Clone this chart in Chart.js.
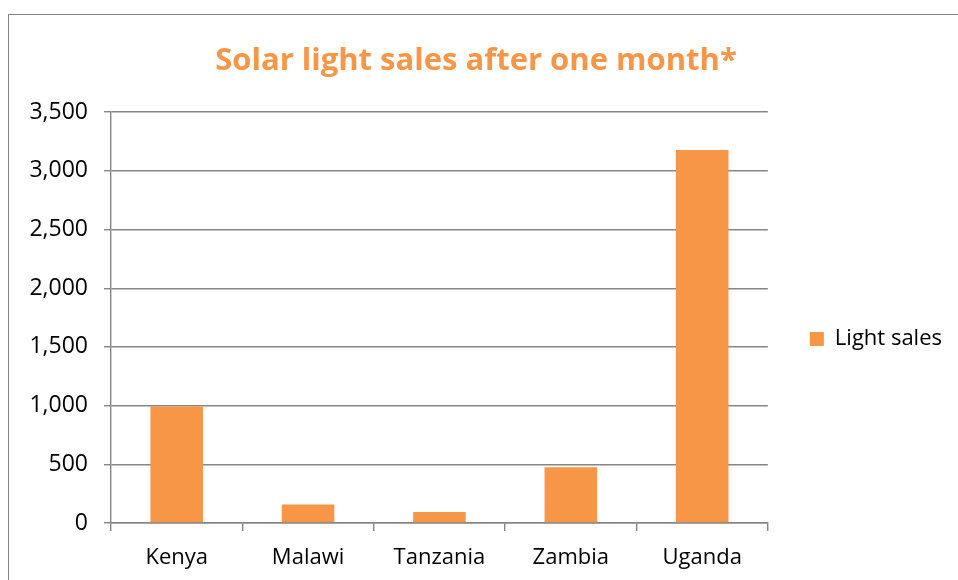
<!DOCTYPE html>
<html>
<head>
<meta charset="utf-8">
<script src="https://cdn.jsdelivr.net/npm/chart.js@4"></script>
<style>
  html, body { margin: 0; padding: 0; background: #fff; }
  #wrap { width: 958px; height: 580px; }
</style>
</head>
<body>
<div id="wrap"><canvas id="myChart" width="958" height="580"></canvas></div>
<script>
const paises = ["Kenya", "Malawi", "Tanzania", "Zambia", "Uganda"];
const ventas = [992, 158, 94, 476, 3178];
const titulo = "Solar light sales after one month*";
const serie = "Light sales";

const naranja = "#F79646";
const gris = "#868686";
const fuente = "'Open Sans', 'Noto Sans', sans-serif";

// marco gris alrededor del grafico
const marco = {
  id: "marco",
  beforeDraw(chart) {
    const c = chart.ctx;
    c.save();
    c.strokeStyle = gris;
    c.lineWidth = 1;
    c.strokeRect(8.5, 14.5, 2000, 2000);
    c.restore();
  },
};

const ctx = document.getElementById("myChart").getContext("2d");

new Chart(ctx, {
  type: "bar",
  data: {
    labels: paises,
    datasets: [
      {
        label: serie,
        data: ventas,
        backgroundColor: naranja,
        borderWidth: 0,
        barPercentage: 0.4,
        categoryPercentage: 1,
      },
    ],
  },
  options: {
    responsive: false,
    animation: false,
    layout: { padding: { left: 0, right: 6, top: 0, bottom: 0 } },
    plugins: {
      title: {
        display: true,
        text: titulo,
        color: naranja,
        font: { family: fuente, size: 31, weight: "bold" },
        padding: { top: 43, bottom: 32 },
      },
      legend: {
        position: "right",
        title: {
          display: true,
          text: " ",
          font: { size: 10 },
          padding: { top: 0, bottom: 86 },
        },
        labels: {
          boxWidth: 14,
          boxHeight: 14,
          padding: 42,
          color: "#000",
          font: { family: fuente, size: 22 },
        },
      },
      tooltip: { enabled: false },
    },
    scales: {
      x: {
        afterFit(scale) {
          scale.height = 57;
        },
        grid: {
          drawOnChartArea: false,
          color: gris,
          tickLength: 8,
          lineWidth: 1.4,
        },
        border: { color: gris, width: 1.4 },
        ticks: {
          color: "#000",
          padding: 14,
          font: { family: fuente, size: 22 },
        },
      },
      y: {
        min: 0,
        max: 3500,
        afterFit(scale) {
          scale.width = 111;
        },
        grid: { color: gris, tickLength: 7, lineWidth: 1.4 },
        border: { color: gris, width: 1.4 },
        ticks: {
          stepSize: 500,
          color: "#000",
          padding: 16,
          font: { family: fuente, size: 23 },
          callback: (v) => v.toLocaleString("en-US"),
        },
      },
    },
  },
  plugins: [marco],
});
</script>
</body>
</html>
